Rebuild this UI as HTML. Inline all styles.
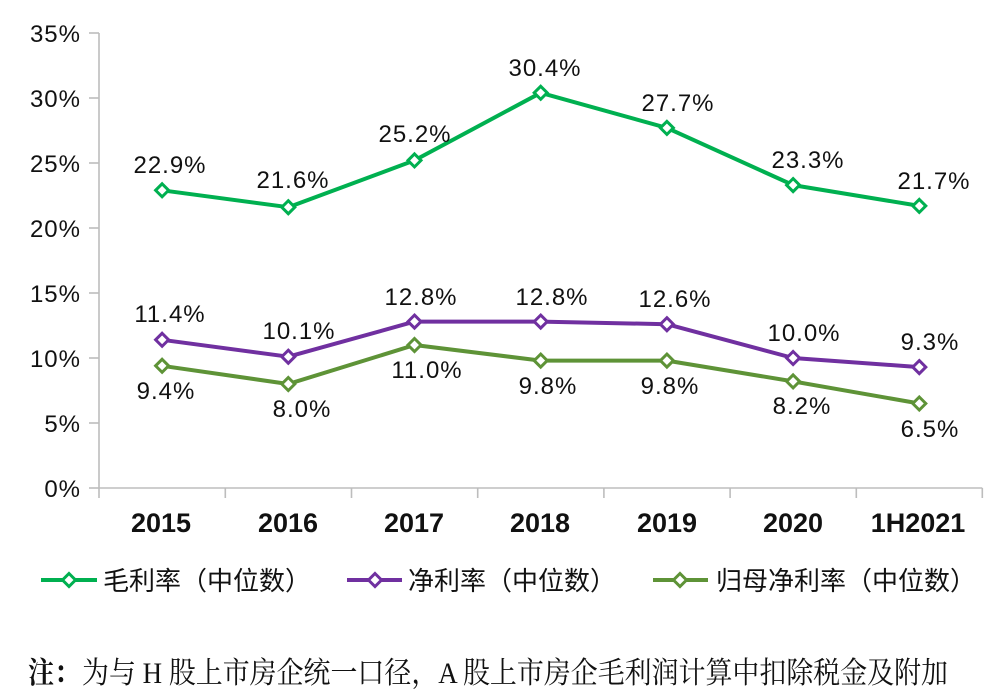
<!DOCTYPE html>
<html><head><meta charset="utf-8"><style>
html,body{margin:0;padding:0;background:#fff;}
svg{display:block;}
.n{font-family:"Liberation Sans",Arial,sans-serif;font-size:24px;fill:#111;letter-spacing:1px;}
.x{font-family:"Liberation Sans",Arial,sans-serif;font-size:27px;font-weight:bold;fill:#111;}
.lg{font-family:"Liberation Sans","Noto Sans CJK SC",sans-serif;font-size:26px;fill:#111;}
.nt{font-family:"Liberation Serif","Noto Serif CJK SC",serif;font-size:30px;fill:#111;}
</style></head><body>
<svg width="1002" height="698" viewBox="0 0 1002 698" xmlns="http://www.w3.org/2000/svg">
<g stroke="#bdbdbd" stroke-width="1.6" fill="none">
<line x1="99" y1="33" x2="99" y2="498"/>
<line x1="99" y1="488" x2="982.3" y2="488"/>
<line x1="89" y1="33" x2="99" y2="33"/>
<line x1="89" y1="98" x2="99" y2="98"/>
<line x1="89" y1="163" x2="99" y2="163"/>
<line x1="89" y1="228" x2="99" y2="228"/>
<line x1="89" y1="293" x2="99" y2="293"/>
<line x1="89" y1="358" x2="99" y2="358"/>
<line x1="89" y1="423" x2="99" y2="423"/>
<line x1="89" y1="488" x2="99" y2="488"/>
<line x1="225.3" y1="488" x2="225.3" y2="498"/>
<line x1="351.5" y1="488" x2="351.5" y2="498"/>
<line x1="477.7" y1="488" x2="477.7" y2="498"/>
<line x1="603.9" y1="488" x2="603.9" y2="498"/>
<line x1="730.1" y1="488" x2="730.1" y2="498"/>
<line x1="856.3" y1="488" x2="856.3" y2="498"/>
<line x1="982.3" y1="488" x2="982.3" y2="498"/>
</g>
<g class="n" text-anchor="end">
<text x="81" y="42">35%</text>
<text x="81" y="107">30%</text>
<text x="81" y="172">25%</text>
<text x="81" y="237">20%</text>
<text x="81" y="302">15%</text>
<text x="81" y="367">10%</text>
<text x="81" y="432">5%</text>
<text x="81" y="497">0%</text>
</g>
<g class="x" text-anchor="middle">
<text x="161" y="532">2015</text>
<text x="288" y="532">2016</text>
<text x="414" y="532">2017</text>
<text x="540" y="532">2018</text>
<text x="667" y="532">2019</text>
<text x="793" y="532">2020</text>
<text x="918" y="532">1H2021</text>
</g>
<!-- series -->
<g fill="none" stroke-width="4" stroke-linejoin="round">
<polyline stroke="#00B050" points="162.1,190.3 288.3,207.2 414.5,160.4 540.7,92.8 666.9,127.9 793.1,185.1 919.3,205.9"/>
<polyline stroke="#7030A0" points="162.1,339.8 288.3,356.7 414.5,321.6 540.7,321.6 666.9,324.2 793.1,358 919.3,367.1"/>
<polyline stroke="#5E9337" points="162.1,365.8 288.3,384 414.5,345 540.7,360.6 666.9,360.6 793.1,381.4 919.3,403.5"/>
</g>
<g fill="#fff" stroke-width="3">
<g stroke="#00B050">
<path d="M162.1,183.8 l6.5,6.5 l-6.5,6.5 l-6.5,-6.5z"/>
<path d="M288.3,200.7 l6.5,6.5 l-6.5,6.5 l-6.5,-6.5z"/>
<path d="M414.5,153.9 l6.5,6.5 l-6.5,6.5 l-6.5,-6.5z"/>
<path d="M540.7,86.3 l6.5,6.5 l-6.5,6.5 l-6.5,-6.5z"/>
<path d="M666.9,121.4 l6.5,6.5 l-6.5,6.5 l-6.5,-6.5z"/>
<path d="M793.1,178.6 l6.5,6.5 l-6.5,6.5 l-6.5,-6.5z"/>
<path d="M919.3,199.4 l6.5,6.5 l-6.5,6.5 l-6.5,-6.5z"/>
</g>
<g stroke="#7030A0">
<path d="M162.1,333.3 l6.5,6.5 l-6.5,6.5 l-6.5,-6.5z"/>
<path d="M288.3,350.2 l6.5,6.5 l-6.5,6.5 l-6.5,-6.5z"/>
<path d="M414.5,315.1 l6.5,6.5 l-6.5,6.5 l-6.5,-6.5z"/>
<path d="M540.7,315.1 l6.5,6.5 l-6.5,6.5 l-6.5,-6.5z"/>
<path d="M666.9,317.7 l6.5,6.5 l-6.5,6.5 l-6.5,-6.5z"/>
<path d="M793.1,351.5 l6.5,6.5 l-6.5,6.5 l-6.5,-6.5z"/>
<path d="M919.3,360.6 l6.5,6.5 l-6.5,6.5 l-6.5,-6.5z"/>
</g>
<g stroke="#5E9337">
<path d="M162.1,359.3 l6.5,6.5 l-6.5,6.5 l-6.5,-6.5z"/>
<path d="M288.3,377.5 l6.5,6.5 l-6.5,6.5 l-6.5,-6.5z"/>
<path d="M414.5,338.5 l6.5,6.5 l-6.5,6.5 l-6.5,-6.5z"/>
<path d="M540.7,354.1 l6.5,6.5 l-6.5,6.5 l-6.5,-6.5z"/>
<path d="M666.9,354.1 l6.5,6.5 l-6.5,6.5 l-6.5,-6.5z"/>
<path d="M793.1,374.9 l6.5,6.5 l-6.5,6.5 l-6.5,-6.5z"/>
<path d="M919.3,397 l6.5,6.5 l-6.5,6.5 l-6.5,-6.5z"/>
</g>
</g>
<g class="n" text-anchor="middle">
<text x="170" y="173">22.9%</text>
<text x="293" y="188">21.6%</text>
<text x="415" y="142">25.2%</text>
<text x="545" y="76">30.4%</text>
<text x="678" y="111">27.7%</text>
<text x="808" y="168">23.3%</text>
<text x="934" y="189">21.7%</text>

<text x="170" y="322">11.4%</text>
<text x="299" y="339">10.1%</text>
<text x="421" y="305">12.8%</text>
<text x="552" y="305">12.8%</text>
<text x="675" y="307">12.6%</text>
<text x="804" y="341">10.0%</text>
<text x="930" y="350">9.3%</text>

<text x="166" y="399">9.4%</text>
<text x="302" y="417">8.0%</text>
<text x="427" y="378">11.0%</text>
<text x="548" y="394">9.8%</text>
<text x="670" y="394">9.8%</text>
<text x="802" y="414">8.2%</text>
<text x="930" y="437">6.5%</text>
</g>
<!-- legend -->
<g stroke-width="4">
<line x1="41" y1="580" x2="97" y2="580" stroke="#00B050"/>
<line x1="347" y1="580" x2="402" y2="580" stroke="#7030A0"/>
<line x1="653" y1="580" x2="708" y2="580" stroke="#5E9337"/>
</g>
<g fill="#fff" stroke-width="3">
<path d="M69,573.5 l6.5,6.5 l-6.5,6.5 l-6.5,-6.5z" stroke="#00B050"/>
<path d="M375,573.5 l6.5,6.5 l-6.5,6.5 l-6.5,-6.5z" stroke="#7030A0"/>
<path d="M680,573.5 l6.5,6.5 l-6.5,6.5 l-6.5,-6.5z" stroke="#5E9337"/>
</g>
<text class="lg" x="103" y="590">毛利率（中位数）</text>
<text class="lg" x="408" y="590">净利率（中位数）</text>
<text class="lg" x="716" y="590">归母净利率（中位数）</text>
<!-- note -->
<text class="nt" x="28" y="683" font-weight="bold" textLength="52" lengthAdjust="spacingAndGlyphs">注：</text>
<text class="nt" x="82" y="683" textLength="866" lengthAdjust="spacingAndGlyphs">为与 H 股上市房企统一口径，A 股上市房企毛利润计算中扣除税金及附加</text>
</svg>
</body></html>
